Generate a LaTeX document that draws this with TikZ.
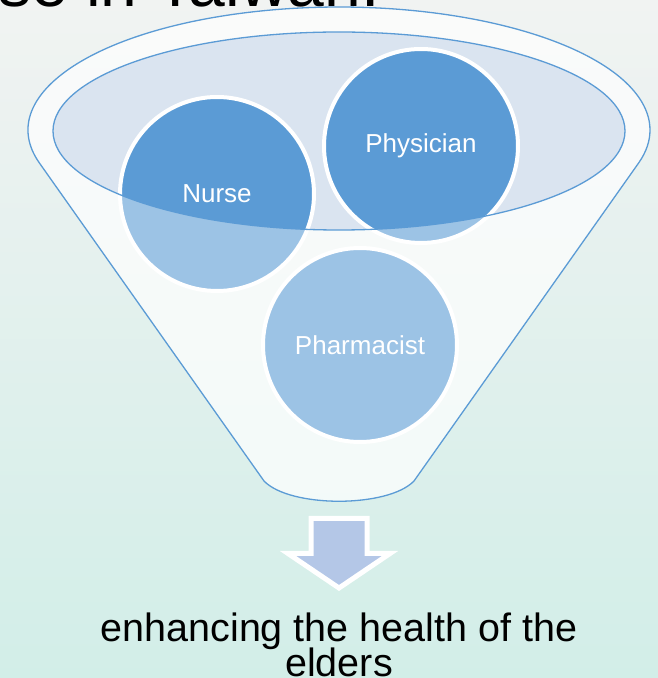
\documentclass[tikz,border=0pt]{standalone}
\usepackage{fontspec}
\setmainfont{Liberation Sans}
\usepackage{tikz}
\definecolor{hcblue}{RGB}{91,155,213}
\definecolor{hclid}{RGB}{218,228,240}
\definecolor{hcarrow}{RGB}{180,199,231}
\definecolor{hcbgtop}{RGB}{241,243,242}
\definecolor{hcbgbottom}{RGB}{210,238,232}
\tikzset{/HC/F/body/.style={
	insert path={(39.2,515.3) arc[start angle=195.4, end angle=-15.4, x radius=311, y radius=123]
		-- (414,197) .. controls (388,170) and (290,170) .. (264,197) -- cycle}
}}
\tikzset{/HC/F/bubble/.style={
	shape=circle, minimum size=194pt, inner sep=0pt, fill=hcblue, draw=white, line width=4pt,
	text=white, font=\fontsize{26}{30}\selectfont
}}
\tikzset{/HC/F/downarrow/.style={
	fill=hcarrow, draw=white, line width=5pt, line join=miter
}}

\begin{document}
\begin{tikzpicture}[x=1pt, y=1pt]
	\useasboundingbox (0,0) rectangle (658,678);
	\clip (0,0) rectangle (658,678);
	\path[top color=hcbgtop, bottom color=hcbgbottom] (0,0) rectangle (658,678);
	\path (-2,671) node[anchor=base west, inner sep=0pt, font=\fontsize{66}{72}\selectfont] (title) {se in Taiwan.};
	% back of the funnel
	\path[fill=white, fill opacity=.5, /HC/F/body];
	\path (339,547) coordinate (lid);
	\fill[hclid] (lid) ellipse[x radius=286, y radius=99];
	\path (lid) ++(-122,-63) node[/HC/F/bubble] (nurse) {Nurse};
	\path (lid) ++(82,-15) node[/HC/F/bubble] (physician) {Physician};
	\path (lid) ++(21,-214) node[/HC/F/bubble] (pharmacist) {Pharmacist};
	% front of the funnel
	\path[fill=white, fill opacity=.4, even odd rule, /HC/F/body] (lid) ellipse[x radius=286, y radius=99];
	\draw[hcblue, line width=1.3pt, /HC/F/body];
	\draw[hcblue, line width=1.3pt] (lid) ellipse[x radius=286, y radius=99];
	\path (339,90) coordinate (tip);
	\draw[/HC/F/downarrow] (311,159.5) -- (367,159.5) -- (367,124.5) -- (390,124.5) -- (tip)
		-- (288,124.5) -- (311,124.5) -- cycle;
	\path (339,65) node[anchor=north, inner sep=0pt, align=center, font={\fontsize{39.5}{31}\selectfont\lineskiplimit=-50pt\relax}] (goal) {enhancing the health of the\\[4pt]elders};
\end{tikzpicture}
\end{document}
